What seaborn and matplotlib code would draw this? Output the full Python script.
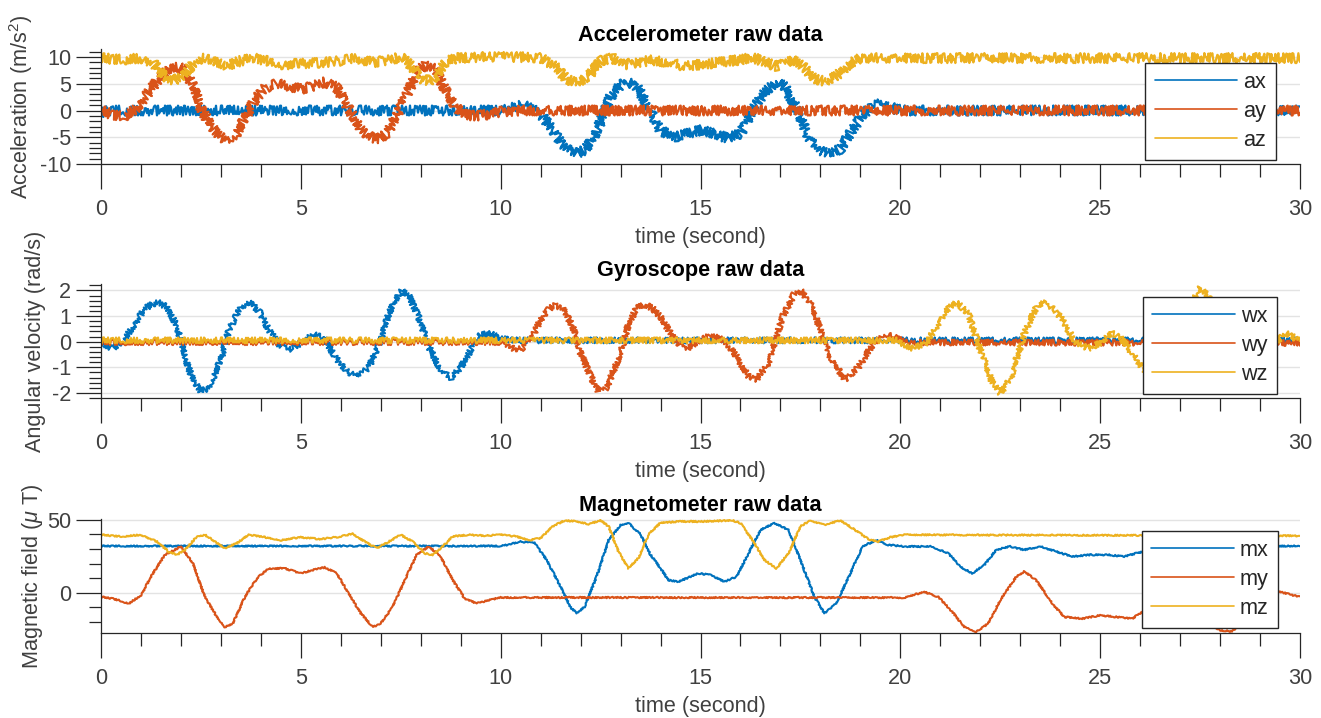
import matplotlib
matplotlib.use("Agg")
import matplotlib.pyplot as plt
from matplotlib.ticker import MultipleLocator
import seaborn as sns

# ---------------- accelerometer (m/s^2) ----------------
ax_t = [0, 0.2, 10.0, 10.3, 10.55, 10.8, 11.05, 11.3, 11.5, 11.7, 11.9, 12.1, 12.35, 12.55, 12.75,
        13.0, 13.2, 13.4, 13.7, 14.0, 14.4, 14.75, 15.05, 15.4, 15.7, 16.0, 16.3, 16.6, 16.9, 17.1,
        17.4, 17.7, 18.0, 18.2, 18.5, 18.8, 19.05, 19.3, 19.6, 19.9, 20.2, 30]
ax_v = [-0.5, 0, 0, 0.5, 1.1, 0.2, -1.1, -3.6, -6.0, -7.4, -8.0, -7.4, -4.9, -1.1, 2.6,
        4.8, 5.4, 4.5, 0.7, -3.8, -4.9, -4.2, -3.6, -4.5, -5.2, -4.3, 0.0, 3.5, 5.4, 4.5,
        0.5, -5.0, -7.5, -8.0, -7.2, -3.5, -1.0, 1.0, 1.3, 0.2, 0.0, 0.0]

ay_t = [0, 0.3, 0.55, 0.85, 1.1, 1.4, 1.7, 1.9, 2.1, 2.3, 2.5, 2.75, 3.0, 3.15, 3.35,
        3.6, 3.85, 4.1, 4.4, 4.7, 5.0, 5.3, 5.6, 5.9, 6.2, 6.5, 6.75, 6.95, 7.15, 7.4,
        7.65, 7.9, 8.1, 8.35, 8.6, 8.85, 9.1, 9.4, 9.7, 10.0, 10.5, 30]
ay_v = [0, -0.8, -1.2, 0.2, 2.5, 5.5, 7.8, 8.2, 7.6, 4.5, 0.5, -3.0, -5.0, -5.5, -4.8,
        -1.5, 2.0, 4.2, 5.0, 4.6, 4.0, 4.5, 5.3, 4.3, 0.3, -3.5, -5.0, -5.3, -4.3, -1.0,
        3.0, 7.0, 8.5, 7.8, 4.0, 0.8, -0.8, -1.0, -0.7, -0.2, 0, 0]

az_t = [0, 0.5, 1.0, 1.3, 1.55, 1.8, 2.05, 2.3, 2.5, 2.8, 3.1, 3.5, 3.8, 4.2, 4.6,
        5.0, 5.5, 6.0, 6.4, 6.8, 7.2, 7.5, 7.75, 8.0, 8.2, 8.4, 8.6, 8.9, 9.5, 10.5,
        11.0, 11.35, 11.65, 11.9, 12.2, 12.5, 12.8, 13.1, 13.4, 13.8, 14.2, 14.6, 15.0, 15.5, 16.0,
        16.3, 16.6, 16.9, 17.3, 17.6, 17.85, 18.1, 18.4, 18.7, 19.0, 19.5, 30]
az_v = [9.8, 9.5, 9.8, 9.0, 6.6, 5.5, 6.6, 8.6, 9.8, 9.2, 8.3, 9.3, 9.8, 9.2, 8.5,
        8.8, 8.9, 9.3, 9.8, 9.0, 9.4, 10.0, 8.5, 6.0, 5.5, 6.4, 9.0, 9.8, 10.0, 10.0,
        9.8, 8.3, 5.9, 5.0, 6.4, 9.3, 9.8, 8.6, 9.0, 9.4, 9.0, 8.3, 8.6, 9.0, 9.5,
        10.0, 9.0, 8.3, 9.5, 8.0, 6.0, 5.5, 6.4, 8.6, 9.8, 9.8, 9.8]

# ---------------- gyroscope (rad/s) ----------------
wx_t = [0, 0.3, 0.55, 0.8, 1.1, 1.4, 1.65, 1.9, 2.1, 2.3, 2.5, 2.7, 3.0, 3.2, 3.5,
        3.7, 3.95, 4.2, 4.5, 4.75, 5.0, 5.3, 5.55, 5.8, 6.1, 6.4, 6.7, 7.0, 7.2, 7.5,
        7.7, 7.95, 8.2, 8.5, 8.75, 9.0, 9.3, 9.5, 9.75, 10.0, 10.3, 30]
wx_v = [-0.1, -0.25, 0.0, 0.6, 1.3, 1.55, 1.35, 0.6, -0.6, -1.5, -1.95, -1.8, -0.7, 0.45, 1.35,
        1.55, 1.2, 0.45, -0.2, -0.28, -0.05, 0.28, 0.2, -0.45, -1.1, -1.4, -1.0, 0.05, 1.1, 2.0,
        1.8, 0.95, -0.2, -1.1, -1.42, -1.0, -0.2, 0.26, 0.32, 0.12, 0.05, 0.05]

wy_t = [0, 10.0, 10.15, 10.35, 10.55, 10.75, 10.95, 11.15, 11.35, 11.55, 11.8, 12.0, 12.25, 12.45, 12.65,
        13.0, 13.2, 13.4, 13.6, 13.8, 14.0, 14.3, 14.6, 14.95, 15.25, 15.6, 15.9, 16.2, 16.4, 16.7,
        17.05, 17.35, 17.5, 17.8, 18.2, 18.6, 18.95, 19.3, 19.6, 19.85, 20.1, 30]
wy_v = [-0.02, -0.02, -0.1, -0.32, -0.26, 0.05, 0.7, 1.2, 1.42, 1.3, 0.6, -0.45, -1.35, -1.95, -1.8,
        -0.45, 0.7, 1.3, 1.45, 1.3, 0.97, 0.2, -0.32, 0.0, 0.26, 0.06, -0.58, -1.35, -1.48, -0.84,
        0.97, 1.87, 2.0, 1.35, -0.45, -1.48, -1.0, -0.13, 0.26, 0.2, -0.03, -0.05]

wz_t = [0, 19.9, 20.3, 20.65, 20.95, 21.2, 21.4, 21.7, 22.0, 22.3, 22.5, 22.75, 23.1, 23.4, 23.65,
        24.0, 24.4, 24.7, 25.0, 25.3, 25.5, 25.8, 26.05, 26.35, 26.7, 27.0, 27.3, 27.5, 27.75, 28.1,
        28.5, 28.9, 29.2, 29.45, 29.65, 30]
wz_v = [0.05, 0.05, -0.26, -0.06, 0.7, 1.3, 1.55, 1.1, -0.32, -1.6, -2.0, -1.48, 0.32, 1.35, 1.55,
        0.97, -0.06, -0.26, -0.06, 0.32, 0.2, -0.45, -1.0, -1.6, -1.3, 0.1, 1.6, 2.1, 1.7, 0.5,
        -0.6, -0.7, -0.2, 0.05, 0.32, 0.05]

# ---------------- magnetometer (uT) ----------------
mx_t = [0, 10.0, 10.2, 10.5, 10.85, 11.15, 11.5, 11.75, 11.9, 12.1, 12.4, 12.7, 13.0, 13.2, 13.5,
        13.75, 14.0, 14.2, 14.45, 14.95, 15.25, 15.6, 15.9, 16.2, 16.5, 16.85, 17.2, 17.5, 17.85, 18.1,
        18.4, 18.75, 19.05, 19.4, 19.7, 20.1, 20.75, 21.2, 21.5, 21.8, 22.1, 22.4, 22.75, 23.1, 23.5,
        23.9, 24.3, 24.75, 25.2, 25.6, 25.9, 26.5, 27.0, 30]
mx_v = [32, 32, 33, 35, 34, 22.5, 4, -10, -14, -9.6, 11, 36, 46.5, 47.7, 40,
        26, 16.7, 8.7, 7.6, 13.3, 12.2, 7.6, 11, 27, 43, 47.7, 43, 22.5, -2.8, -14,
        -7.3, 13.3, 31.7, 36, 32.8, 31.7, 31.7, 27, 17.9, 13.3, 19, 29.4, 31.7, 29.4, 31.7,
        28.2, 24.8, 26, 26, 24.8, 27, 31, 32, 32]

my_t = [0, 0.3, 0.7, 1.0, 1.3, 1.6, 2.0, 2.3, 2.6, 2.9, 3.1, 3.3, 3.6, 3.9, 4.2,
        4.6, 5.0, 5.3, 5.6, 5.9, 6.2, 6.5, 6.8, 7.0, 7.3, 7.6, 7.9, 8.2, 8.5, 8.8,
        9.1, 9.4, 9.7, 10.0, 20.1, 20.6, 20.95, 21.3, 21.6, 21.9, 22.2, 22.5, 22.9, 23.1, 23.4,
        23.8, 24.1, 24.55, 25.0, 25.4, 25.8, 26.0, 26.5, 27.0, 27.5, 28.0, 28.3, 28.7, 29.1, 29.5,
        29.8, 30]
my_v = [-2.8, -4, -7.3, -1.6, 13.3, 26, 31.7, 20, -2.8, -16.5, -23.4, -21, -2.8, 9.9, 16.7,
        16.7, 13.3, 15.6, 17.4, 13.3, -0.5, -14, -23.4, -21, -9.6, 8.7, 26, 31.7, 24.8, 8.7,
        -3.9, -7.3, -5, -3.2, -3.3, 0.7, -2.8, -13, -23.4, -26.8, -21, -5, 11, 14.5, 8.7,
        -7.3, -16.5, -17.7, -15.4, -16.5, -17.7, -14, -8, -10, -18, -25.5, -26.5, -16, -3, 0.7,
        -1.5, -2.8]

mz_t = [0, 0.5, 1.0, 1.4, 1.7, 1.9, 2.1, 2.4, 2.6, 2.9, 3.1, 3.4, 3.7, 4.0, 4.5,
        5.0, 5.5, 6.0, 6.3, 6.6, 6.9, 7.2, 7.5, 7.8, 8.1, 8.3, 8.5, 8.8, 9.2, 9.6,
        10.0, 10.4, 10.7, 11.0, 11.3, 11.6, 11.9, 12.2, 12.5, 12.7, 12.95, 13.2, 13.45, 13.7, 14.0,
        14.5, 15.0, 15.8, 16.0, 16.3, 16.6, 16.9, 17.2, 17.5, 17.75, 18.1, 18.5, 18.8, 19.2, 19.45,
        19.75, 20.1, 30]
mz_v = [39.7, 38.5, 39.7, 35, 28, 26, 29.4, 38.5, 39.7, 34, 30.5, 34, 39.7, 38.5, 36,
        38, 36.7, 38.5, 40.4, 35, 30.5, 35, 39.7, 35, 27, 26, 30.5, 38.5, 39.7, 39,
        39.7, 38.5, 36, 37.4, 45.4, 49.5, 48.8, 47, 49.5, 45.4, 28, 16.7, 24, 40, 48,
        48.8, 48.8, 49.5, 47.7, 36, 22.5, 16.7, 27, 45.4, 49.5, 46.5, 49.5, 44.3, 36.7, 35,
        38, 39.7, 39]

acc_labels = ["ax", "ay", "az"]
gyr_labels = ["wx", "wy", "wz"]
mag_labels = ["mx", "my", "mz"]

COLORS = ["#0072BD", "#D95319", "#EDB120"]
AXCOL = "#262626"
TXTCOL = "#404040"
FS = 15.6

sns.set_style("white")
plt.rcParams["font.family"] = ["Liberation Sans", "DejaVu Sans"]
plt.rcParams["axes.unicode_minus"] = False
plt.rcParams["mathtext.fontset"] = "custom"
plt.rcParams["mathtext.rm"] = "Liberation Sans"
plt.rcParams["mathtext.it"] = "Liberation Sans:italic"

W, H = 1321, 718
fig = plt.figure(figsize=(W / 100, H / 100), dpi=100)


def px_axes(top, bottom, left=101, right=1300):
    return fig.add_axes([left / W, 1 - bottom / H, (right - left) / W, (bottom - top) / H])


def panel(ax, series, labels, lw, jitter, ylim, ymaj, ymin, ylabel, ylabel_x, title, leg_center):
    for (t, v), lab, c in zip(series, labels, COLORS):
        sns.lineplot(x=t, y=v, ax=ax, color=c, linewidth=lw, label=lab,
                     sort=False, estimator=None)
    # sensor noise look: jagged stroke rendering of each trace
    for ln in ax.get_lines():
        ln.set_sketch_params(scale=jitter, length=1.5, randomness=2)
    ax.set_xlim(0, 30)
    ax.set_ylim(*ylim)
    ax.xaxis.set_major_locator(MultipleLocator(5))
    ax.xaxis.set_minor_locator(MultipleLocator(1))
    ax.yaxis.set_major_locator(MultipleLocator(ymaj))
    ax.yaxis.set_minor_locator(MultipleLocator(ymin))
    for s in ("top", "right"):
        ax.spines[s].set_visible(False)
    for s in ("left", "bottom"):
        ax.spines[s].set_color(AXCOL)
        ax.spines[s].set_linewidth(0.9)
    ax.tick_params(axis="x", which="major", direction="out", length=18, width=0.9,
                   color=AXCOL, pad=7, labelsize=FS, labelcolor=TXTCOL, bottom=True)
    ax.tick_params(axis="x", which="minor", direction="out", length=9.5, width=0.9,
                   color=AXCOL, bottom=True)
    ax.tick_params(axis="y", which="major", direction="out", length=18, width=0.9,
                   color=AXCOL, pad=3.5, labelsize=FS, labelcolor=TXTCOL, left=True)
    ax.tick_params(axis="y", which="minor", direction="out", length=9, width=0.9,
                   color=AXCOL, left=True)
    ax.set_axisbelow(True)
    ax.yaxis.grid(True, which="major", color="#e3e3e3", linewidth=1.0)
    ax.xaxis.grid(False)
    ax.set_xlabel("time (second)", fontsize=FS, color=TXTCOL)
    ax.xaxis.set_label_coords(0.5, -0.55)
    ax.set_ylabel(ylabel, fontsize=FS, color=TXTCOL)
    ax.yaxis.set_label_coords(ylabel_x, 0.5)
    ax.set_title(title, fontsize=FS, fontweight="bold", color="black", pad=6)
    leg = ax.legend(loc="center", bbox_to_anchor=leg_center, fontsize=FS,
                    frameon=True, fancybox=False, framealpha=1, edgecolor=AXCOL,
                    handlelength=3.8, handletextpad=0.3, labelspacing=0.37,
                    borderpad=0.43, borderaxespad=0)
    leg.get_frame().set_linewidth(1.0)
    for h in leg.get_lines():
        h.set_linewidth(1.2)
        h.set_sketch_params(None)


a1 = px_axes(49, 164)
panel(a1, [(ax_t, ax_v), (ay_t, ay_v), (az_t, az_v)], acc_labels, 1.6, 5.0,
      (-10, 11.5), 5, 1, r"Acceleration (m/s$^2$)", -0.055,
      "Accelerometer raw data", (0.9254, 0.457))

a2 = px_axes(284, 398)
panel(a2, [(wx_t, wx_v), (wy_t, wy_v), (wz_t, wz_v)], gyr_labels, 1.5, 3.0,
      (-2.2, 2.25), 1, 0.2, "Angular velocity (rad/s)", -0.046,
      "Gyroscope raw data", (0.925, 0.46))

a3 = px_axes(519, 633)
panel(a3, [(mx_t, mx_v), (my_t, my_v), (mz_t, mz_v)], mag_labels, 1.5, 0.7,
      (-27.5, 50.5), 50, 10, r"Magnetic field ($\mu$ T)", -0.047,
      "Magnetometer raw data", (0.925, 0.47))

fig.savefig("out.png", dpi=100)
